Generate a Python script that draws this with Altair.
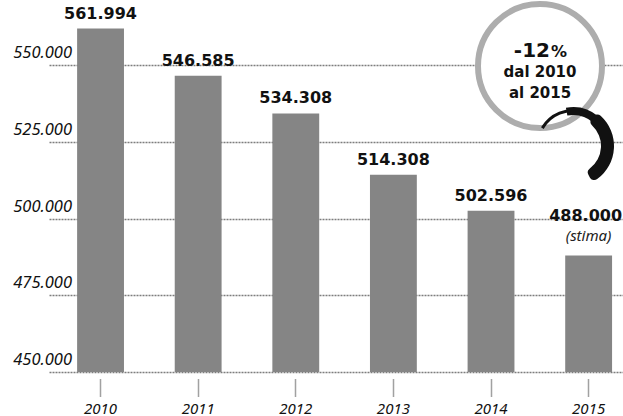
import altair as alt
import pandas as pd

years = ["2010", "2011", "2012", "2013", "2014", "2015"]
values = [561994, 546585, 534308, 514308, 502596, 488000]
value_labels = ["561.994", "546.585", "534.308", "514.308", "502.596", "488.000"]
y_ticks = [450000, 475000, 500000, 525000, 550000]
y_tick_labels = ["450.000", "475.000", "500.000", "525.000", "550.000"]
note_pct_num = "-12"
note_pct_sign = "%"
note_small = "dal 2010\nal 2015"
estimate_note = "(stima)"

df = pd.DataFrame({"year": years, "value": values, "label": value_labels})
ticks_df = pd.DataFrame({"v": y_ticks, "t": y_tick_labels})
one = pd.DataFrame({"k": [0]})

x_scale = alt.Scale(domain=years, paddingInner=0.52, paddingOuter=0.2, align=0.72)
y_scale = alt.Scale(domain=[450000, 571300], nice=False, zero=False)

x_enc = alt.X(
    "year:N", scale=x_scale, sort=years,
    axis=alt.Axis(title=None, labelAngle=0, domain=False, offset=7, tickSize=17,
                  tickDash=[1, 1], tickColor="#444", tickWidth=1.5, labelPadding=5,
                  labelFont="Noto Sans", labelFontStyle="italic", labelFontSize=15,
                  labelColor="#111", grid=False),
)
y_enc = alt.Y(
    "value:Q", scale=y_scale,
    axis=alt.Axis(title=None, values=y_ticks, domain=False, ticks=False, labels=False,
                  grid=True, gridDash=[2, 1], gridColor="#7d7d7d", gridWidth=1.5),
)

bars = alt.Chart(df).mark_bar(color="#858585").encode(
    x=x_enc, y=y_enc, y2=alt.datum(450000)
)

ylabels = alt.Chart(ticks_df).mark_text(
    font="Noto Sans", fontStyle="italic", fontSize=16.5, dy=-7,
    baseline="alphabetic", align="right", color="#111"
).encode(x=alt.value(23), y=alt.Y("v:Q", scale=y_scale), text="t:N")

labels = alt.Chart(df).transform_filter("datum.year != '2015'").mark_text(
    font="DejaVu Sans", fontWeight="bold", fontSize=16, dy=-10,
    baseline="alphabetic", color="#111"
).encode(x=alt.X("year:N", scale=x_scale, sort=years), y=alt.Y("value:Q", scale=y_scale), text="label:N")

label_2015 = alt.Chart(df).transform_filter("datum.year == '2015'").mark_text(
    font="DejaVu Sans", fontWeight="bold", fontSize=16, dy=-34, dx=-3,
    baseline="alphabetic", color="#111"
).encode(x=alt.X("year:N", scale=x_scale, sort=years), y=alt.Y("value:Q", scale=y_scale), text="label:N")

stima = alt.Chart(df).transform_filter("datum.year == '2015'").mark_text(
    font="Noto Sans", fontStyle="italic", fontSize=15, dy=-14,
    baseline="alphabetic", color="#222", text=estimate_note
).encode(x=alt.X("year:N", scale=x_scale, sort=years), y=alt.Y("value:Q", scale=y_scale))

ring = alt.Chart(one).mark_point(
    shape="circle", filled=True, fill="white", stroke="#adadad", strokeWidth=6,
    size=15376, opacity=1, fillOpacity=1
).encode(x=alt.value(491), y=alt.value(66))

arc_a = alt.Chart(one).mark_arc(
    theta=5.24, theta2=6.55, radius=37, radius2=34, color="#111"
).encode(x=alt.value(524), y=alt.value(146))
arc_b = alt.Chart(one).mark_arc(
    theta=6.1, theta2=7.0, radius=39, radius2=31, color="#111"
).encode(x=alt.value(524), y=alt.value(146))
arc_c = alt.Chart(one).mark_arc(
    theta=0.6, theta2=2.65, radius=41, radius2=28, color="#111", cornerRadius=5
).encode(x=alt.value(524), y=alt.value(146))

pct_num = alt.Chart(one).mark_text(
    text=note_pct_num, font="DejaVu Sans", fontWeight="bold", fontSize=20,
    baseline="alphabetic", align="right", color="#111"
).encode(x=alt.value(501), y=alt.value(57))
pct_sign = alt.Chart(one).mark_text(
    text=note_pct_sign, font="DejaVu Sans", fontWeight="bold", fontSize=16,
    baseline="alphabetic", align="left", color="#111"
).encode(x=alt.value(502), y=alt.value(57))
small = alt.Chart(one).mark_text(
    text=note_small, lineBreak="\n", lineHeight=21, font="DejaVu Sans", fontWeight="bold",
    fontSize=15, baseline="alphabetic", align="center", color="#111"
).encode(x=alt.value(491), y=alt.value(77))

chart = alt.layer(
    bars, ylabels, labels, label_2015, stima, ring, arc_a, arc_b, arc_c,
    pct_num, pct_sign, small
).properties(
    width=574, height=372,
    autosize=alt.AutoSizeParams(type="none"),
    padding={"left": 49, "top": 0, "right": 0, "bottom": 44},
    background="white",
).configure_view(stroke=None)

chart.save("out.html", embed_options={"renderer": "svg", "actions": False})
